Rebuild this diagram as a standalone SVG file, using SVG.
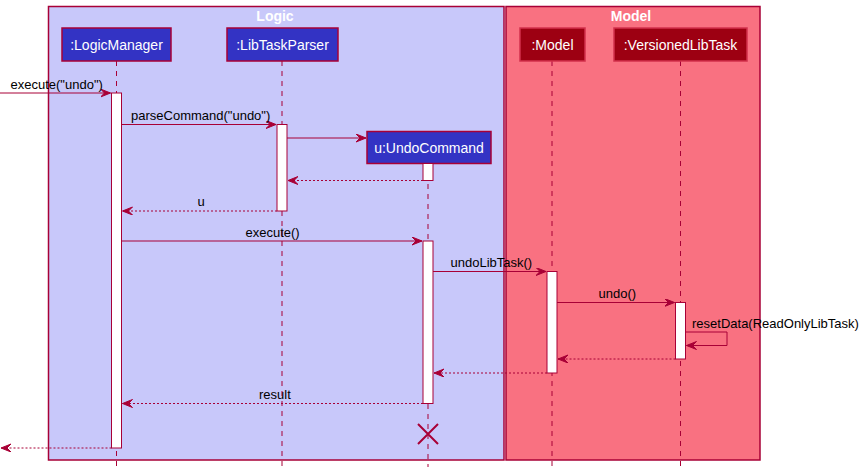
<svg xmlns="http://www.w3.org/2000/svg" width="864" height="472" viewBox="0 0 864 472">
<defs>
<style>
.lbl{font-family:"Liberation Sans",Arial,sans-serif;font-size:13px;fill:#000}
.ttl{font-family:"Liberation Sans",Arial,sans-serif;font-size:14px;font-weight:bold;fill:#fff;text-anchor:middle}
.pt{font-family:"Liberation Sans",Arial,sans-serif;font-size:14px;fill:#fff;text-anchor:middle}
.life{stroke:#A80036;stroke-width:1;stroke-dasharray:5,5;fill:none}
.act{fill:#fff;stroke:#A80036;stroke-width:1}
.msg{stroke:#A80036;stroke-width:1;fill:none;marker-end:url(#ah)}
.ret{stroke:#A80036;stroke-width:1;fill:none;stroke-dasharray:2,2;marker-end:url(#ah)}
.pl{fill:#3333C4;stroke:#A80036;stroke-width:1.5}
.pm{fill:#9D0012;stroke:#D2304C;stroke-width:1.5}
</style>
<marker id="ah" markerUnits="userSpaceOnUse" markerWidth="11" markerHeight="9" refX="10" refY="4" orient="auto" viewBox="0 0 11 9">
<path d="M0,0 L10,4 L0,8 L4,4 Z" fill="#A80036" stroke="#A80036" stroke-width="1"/>
</marker>
</defs>
<rect width="864" height="472" fill="#fff"/>
<g id="box-logic">
<rect x="48.5" y="6.5" width="455.5" height="453.5" fill="#C8C8FA" stroke="#A80036" stroke-width="1.5"/>
<text class="ttl" x="275" y="21">Logic</text>
</g>
<g id="box-model">
<rect x="506" y="6.5" width="254" height="453.5" fill="#F97181" stroke="#A80036" stroke-width="1.5"/>
<text class="ttl" x="631" y="21">Model</text>
</g>
<g id="lifelines">
<line class="life" x1="116.5" y1="61" x2="116.5" y2="467"/>
<line class="life" x1="282" y1="61" x2="282" y2="467"/>
<line class="life" x1="428" y1="164" x2="428" y2="467"/>
<line class="life" x1="552" y1="61" x2="552" y2="467"/>
<line class="life" x1="680.5" y1="61" x2="680.5" y2="467"/>
</g>
<g id="LogicManager">
<rect class="pl" x="62" y="28" width="109" height="33"/>
<text class="pt" x="116.5" y="49.5">:LogicManager</text>
<rect class="act" x="111.5" y="93" width="10" height="355"/>
</g>
<g id="LibTaskParser">
<rect class="pl" x="227" y="28" width="111" height="33"/>
<text class="pt" x="282.5" y="49.5">:LibTaskParser</text>
<rect class="act" x="277" y="124.5" width="10" height="86.5"/>
</g>
<g id="UndoCommand">
<rect class="pl" x="367" y="131.5" width="124" height="32"/>
<text class="pt" x="429" y="153">u:UndoCommand</text>
<rect class="act" x="423" y="163.5" width="10" height="17"/>
<rect class="act" x="423" y="241" width="10" height="162.5"/>
<path d="M418,424 L438,444 M418,444 L438,424" stroke="#A80036" stroke-width="2"/>
</g>
<g id="Model">
<rect class="pm" x="520" y="28" width="65" height="33"/>
<text class="pt" x="552.5" y="49.5">:Model</text>
<rect class="act" x="547" y="271.5" width="10" height="101.5"/>
</g>
<g id="VersionedLibTask">
<rect class="pm" x="614" y="28" width="133" height="33"/>
<text class="pt" x="680.5" y="49.5">:VersionedLibTask</text>
<rect class="act" x="675.5" y="302.5" width="10" height="56.5"/>
</g>
<g id="connectors">
<line class="msg" x1="0" y1="93" x2="110.5" y2="93"/>
<line class="msg" x1="121.5" y1="124.5" x2="276" y2="124.5"/>
<line class="msg" x1="287" y1="138" x2="366" y2="138"/>
<line class="ret" x1="423" y1="180.5" x2="288" y2="180.5"/>
<line class="ret" x1="277" y1="211" x2="122.5" y2="211"/>
<line class="msg" x1="121.5" y1="241" x2="422" y2="241"/>
<line class="msg" x1="433" y1="271.5" x2="546" y2="271.5"/>
<line class="msg" x1="557" y1="302.5" x2="674.5" y2="302.5"/>
<polyline class="msg" points="685.5,332 727,332 727,345.5 686.5,345.5"/>
<line class="ret" x1="675.5" y1="359" x2="558" y2="359"/>
<line class="ret" x1="547" y1="373" x2="434" y2="373"/>
<line class="ret" x1="423" y1="403.5" x2="122.5" y2="403.5"/>
<line class="ret" x1="111.5" y1="448" x2="1" y2="448"/>
</g>
<g id="labels">
<text class="lbl" x="10.5" y="89">execute("undo")</text>
<text class="lbl" x="131" y="119.5">parseCommand("undo")</text>
<text class="lbl" x="197.5" y="206">u</text>
<text class="lbl" x="245.5" y="236.5">execute()</text>
<text class="lbl" x="450.5" y="266.5">undoLibTask()</text>
<text class="lbl" x="598.5" y="297.5">undo()</text>
<text class="lbl" x="692" y="327.5">resetData(ReadOnlyLibTask)</text>
<text class="lbl" x="259" y="398.5">result</text>
</g>
</svg>
